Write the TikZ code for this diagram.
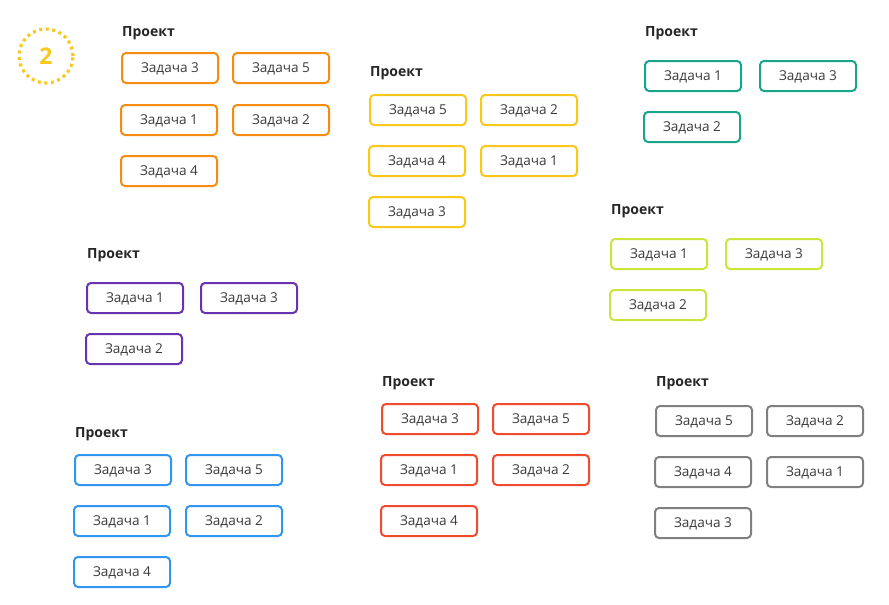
\documentclass[tikz,border=0pt]{standalone}
\usepackage{fontspec}
\setmainfont{Open Sans}
\definecolor{cOrange}{RGB}{245,140,20}
\definecolor{cYellow}{RGB}{250,200,25}
\definecolor{cTeal}{RGB}{25,165,140}
\definecolor{cLime}{RGB}{205,228,60}
\definecolor{cPurple}{RGB}{105,50,175}
\definecolor{cBlue}{RGB}{50,150,240}
\definecolor{cRed}{RGB}{240,75,45}
\definecolor{cGray}{RGB}{128,128,128}
\definecolor{cText}{RGB}{60,60,60}
\definecolor{cCircle}{RGB}{248,200,30}
\tikzset{
  task/.style={draw=#1, line width=2pt, rounded corners=4pt, minimum width=96pt,
    minimum height=30pt, inner sep=0pt, text height=9pt, text depth=0pt,
    text=cText, font=\fontsize{13.6}{15}\selectfont, fill=white},
  ptitle/.style={anchor=base west, inner sep=0pt, text=black!85, font=\fontsize{14}{16}\selectfont\bfseries},
}
\begin{document}
\begin{tikzpicture}[x=1pt,y=-1pt]
\useasboundingbox[fill=white] (0,0) rectangle (889,605);
\begin{scope}[yshift=-1pt]
% circle badge
\node[circle, draw=cCircle, line width=3.2pt, dash pattern=on 3pt off 3.6pt, minimum size=54pt, inner sep=0pt,
  text=cCircle, font=\fontsize{23}{25}\selectfont\bfseries] (badge) at (46,55) {2};
% orange
\node[ptitle] (t1) at (122,35) {Проект};
\node[task=cOrange] (o3) at (170,67) {Задача 3};
\node[task=cOrange] (o5) at (281,67) {Задача 5};
\node[task=cOrange] (o1) at (169,119) {Задача 1};
\node[task=cOrange] (o2) at (281,119) {Задача 2};
\node[task=cOrange] (o4) at (169,170) {Задача 4};
% yellow
\node[ptitle] (t2) at (370,75) {Проект};
\node[task=cYellow] (y5) at (418,109) {Задача 5};
\node[task=cYellow] (y2) at (529,109) {Задача 2};
\node[task=cYellow] (y4) at (417,160) {Задача 4};
\node[task=cYellow] (y1) at (529,160) {Задача 1};
\node[task=cYellow] (y3) at (417,211) {Задача 3};
% teal
\node[ptitle] (t3) at (645,35) {Проект};
\node[task=cTeal] (g1) at (693,75) {Задача 1};
\node[task=cTeal] (g3) at (808,75) {Задача 3};
\node[task=cTeal] (g2) at (692,126) {Задача 2};
% lime
\node[ptitle] (t4) at (611,213) {Проект};
\node[task=cLime] (l1) at (659,253) {Задача 1};
\node[task=cLime] (l3) at (774,253) {Задача 3};
\node[task=cLime] (l2) at (658,304) {Задача 2};
% purple
\node[ptitle] (t5) at (87,257) {Проект};
\node[task=cPurple] (p1) at (135,297) {Задача 1};
\node[task=cPurple] (p3) at (249,297) {Задача 3};
\node[task=cPurple] (p2) at (134,348) {Задача 2};
% blue
\node[ptitle] (t6) at (75,436) {Проект};
\node[task=cBlue] (b3) at (123,469) {Задача 3};
\node[task=cBlue] (b5) at (234,469) {Задача 5};
\node[task=cBlue] (b1) at (122,520) {Задача 1};
\node[task=cBlue] (b2) at (234,520) {Задача 2};
\node[task=cBlue] (b4) at (122,571) {Задача 4};
% red
\node[ptitle] (t7) at (382,385) {Проект};
\node[task=cRed] (r3) at (430,418) {Задача 3};
\node[task=cRed] (r5) at (541,418) {Задача 5};
\node[task=cRed] (r1) at (429,469) {Задача 1};
\node[task=cRed] (r2) at (541,469) {Задача 2};
\node[task=cRed] (r4) at (429,520) {Задача 4};
% gray
\node[ptitle] (t8) at (656,385) {Проект};
\node[task=cGray] (s5) at (704,420) {Задача 5};
\node[task=cGray] (s2) at (815,420) {Задача 2};
\node[task=cGray] (s4) at (703,471) {Задача 4};
\node[task=cGray] (s1) at (815,471) {Задача 1};
\node[task=cGray] (s3) at (703,522) {Задача 3};
\end{scope}
\end{tikzpicture}
\end{document}
